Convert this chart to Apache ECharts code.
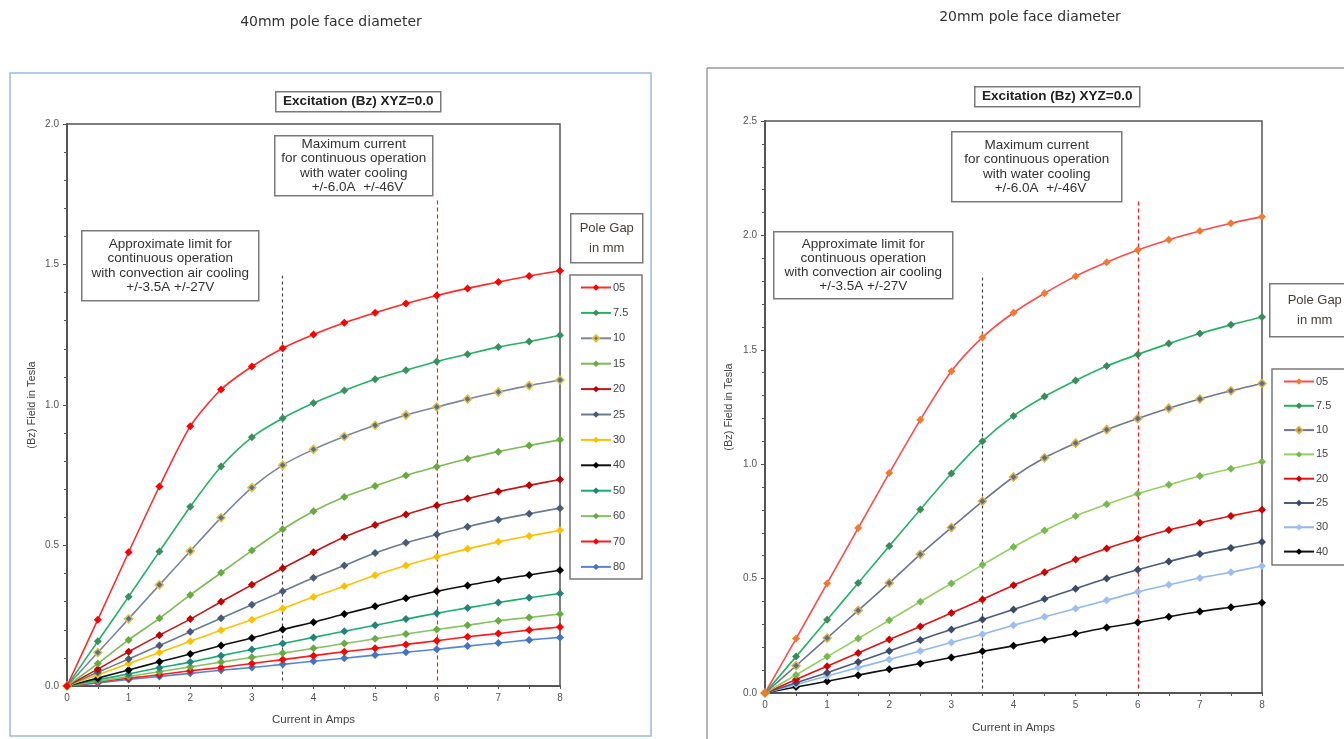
<!DOCTYPE html>
<html>
<head>
<meta charset="utf-8">
<title>Excitation (Bz) XYZ=0.0</title>
<script src="https://cdn.jsdelivr.net/npm/echarts@6/dist/echarts.min.js"></script>
<style>
  html, body { margin: 0; padding: 0; background: #fff; }
  #chart { width: 1344px; height: 739px; }
</style>
</head>
<body>
<div id="chart"></div>
<script>
// current in amps (x values shared by every curve)
const current = [0, 0.5, 1, 1.5, 2, 2.5, 3, 3.5, 4, 4.5, 5, 5.5, 6, 6.5, 7, 7.5, 8];

// 40mm pole face diameter, field in tesla per pole gap
const leftGaps = ["05", "7.5", "10", "15", "20", "25", "30", "40", "50", "60", "70", "80"];
const left05 = [0, 0.236, 0.476, 0.710, 0.924, 1.055, 1.137, 1.202, 1.251, 1.293, 1.328, 1.361, 1.390, 1.415, 1.438, 1.459, 1.478];
const left75 = [0, 0.159, 0.318, 0.479, 0.638, 0.781, 0.885, 0.953, 1.007, 1.052, 1.092, 1.124, 1.155, 1.181, 1.206, 1.226, 1.248];
const left10 = [0, 0.119, 0.239, 0.360, 0.480, 0.599, 0.706, 0.786, 0.842, 0.888, 0.928, 0.964, 0.993, 1.021, 1.046, 1.069, 1.089];
const left15 = [0, 0.080, 0.164, 0.241, 0.324, 0.403, 0.482, 0.558, 0.622, 0.673, 0.712, 0.749, 0.780, 0.809, 0.834, 0.856, 0.876];
const left20 = [0, 0.060, 0.122, 0.181, 0.238, 0.300, 0.360, 0.419, 0.476, 0.530, 0.573, 0.610, 0.642, 0.667, 0.692, 0.714, 0.735];
const left25 = [0, 0.049, 0.096, 0.144, 0.193, 0.241, 0.289, 0.337, 0.385, 0.429, 0.473, 0.510, 0.539, 0.567, 0.592, 0.613, 0.633];
const left30 = [0, 0.040, 0.080, 0.119, 0.159, 0.198, 0.236, 0.276, 0.317, 0.355, 0.394, 0.429, 0.460, 0.488, 0.513, 0.534, 0.554];
const left40 = [0, 0.028, 0.057, 0.086, 0.114, 0.144, 0.171, 0.201, 0.227, 0.256, 0.284, 0.312, 0.337, 0.358, 0.378, 0.395, 0.412];
const left50 = [0, 0.022, 0.043, 0.065, 0.085, 0.108, 0.130, 0.151, 0.173, 0.195, 0.216, 0.238, 0.259, 0.278, 0.297, 0.314, 0.329];
const left60 = [0, 0.017, 0.034, 0.051, 0.068, 0.085, 0.102, 0.117, 0.134, 0.151, 0.168, 0.185, 0.201, 0.216, 0.232, 0.244, 0.256];
const left70 = [0, 0.014, 0.028, 0.040, 0.054, 0.066, 0.080, 0.094, 0.108, 0.122, 0.134, 0.148, 0.161, 0.175, 0.187, 0.199, 0.210];
const left80 = [0, 0.011, 0.023, 0.034, 0.045, 0.056, 0.066, 0.077, 0.088, 0.099, 0.110, 0.120, 0.131, 0.142, 0.153, 0.164, 0.173];

// 20mm pole face diameter
const rightGaps = ["05", "7.5", "10", "15", "20", "25", "30", "40"];
const right05 = [0, 0.238, 0.479, 0.721, 0.961, 1.194, 1.406, 1.554, 1.662, 1.747, 1.822, 1.883, 1.936, 1.981, 2.019, 2.053, 2.082];
const right75 = [0, 0.159, 0.320, 0.481, 0.642, 0.802, 0.959, 1.100, 1.211, 1.296, 1.366, 1.429, 1.480, 1.527, 1.571, 1.609, 1.643];
const right10 = [0, 0.119, 0.240, 0.361, 0.481, 0.606, 0.723, 0.838, 0.944, 1.028, 1.092, 1.151, 1.200, 1.245, 1.285, 1.321, 1.353];
const right15 = [0, 0.079, 0.159, 0.238, 0.318, 0.399, 0.479, 0.560, 0.638, 0.710, 0.774, 0.825, 0.871, 0.910, 0.948, 0.980, 1.011];
const right20 = [0, 0.059, 0.117, 0.175, 0.234, 0.291, 0.350, 0.409, 0.471, 0.528, 0.583, 0.632, 0.674, 0.712, 0.744, 0.774, 0.801];
const right25 = [0, 0.045, 0.089, 0.136, 0.184, 0.232, 0.278, 0.321, 0.365, 0.411, 0.456, 0.500, 0.539, 0.575, 0.607, 0.634, 0.660];
const right30 = [0, 0.037, 0.074, 0.111, 0.146, 0.184, 0.221, 0.257, 0.296, 0.333, 0.369, 0.405, 0.442, 0.473, 0.503, 0.528, 0.555];
const right40 = [0, 0.026, 0.051, 0.078, 0.104, 0.129, 0.155, 0.182, 0.206, 0.233, 0.259, 0.286, 0.308, 0.333, 0.356, 0.375, 0.394];

// cooling limits (amps) and how far up the dashed markers reach (tesla)
const airLimit = 3.5;
const waterLimit = 6;
const leftLimitTop = [1.46, 1.73];
const rightLimitTop = [1.83, 2.16];

const leftValues = [left05, left75, left10, left15, left20, left25, left30, left40, left50, left60, left70, left80];
const rightValues = [right05, right75, right10, right15, right20, right25, right30, right40];

// line colour, marker colour, marker border
const leftStyles = [
  ["#ff2a2a", "#ff0000", null],
  ["#22b463", "#3b8f5f", null],
  ["#7c86a0", "#4a6fb0", "#e8c030"],
  ["#7abb52", "#68aa42", null],
  ["#c41616", "#c00000", null],
  ["#6c7a92", "#4a5a7a", null],
  ["#ffc000", "#ffbf00", null],
  ["#111111", "#000000", null],
  ["#16b06e", "#25807e", null],
  ["#86c462", "#6aaa44", null],
  ["#ff1a1a", "#ff0000", null],
  ["#5586d6", "#4472c4", null]
];
const rightStyles = [
  ["#ff4a4a", "#f07a30", null],
  ["#22b463", "#3a8a5a", null],
  ["#6c7692", "#4a6fb0", "#e8b030"],
  ["#92d060", "#78b850", null],
  ["#e01414", "#d00000", null],
  ["#4c5c7a", "#3a4a68", null],
  ["#90b8f0", "#9cbef0", null],
  ["#111111", "#000000", null]
];

const FONT = "'Liberation Sans', Arial, sans-serif";
const AXIS_COLOR = "#555";

const chart = echarts.init(document.getElementById("chart"), null, { renderer: "canvas" });

function limitLine(x, top, color, dash) {
  const ls = { color: color, type: dash, width: 1.2 };
  return {
    silent: true,
    symbol: "none",
    label: { show: false },
    animation: false,
    lineStyle: ls,
    data: [[{ coord: [x, 0.02], lineStyle: ls }, { coord: [x, top], lineStyle: ls }]]
  };
}

function makeSeries(gaps, values, styles, idx, tag, limitTop) {
  return gaps.map((g, i) => {
    const s = {
      name: g + "|" + tag,
      type: "line",
      xAxisIndex: idx,
      yAxisIndex: idx,
      data: current.map((c, k) => [c, values[i][k]]),
      smooth: 0.25,
      symbol: "diamond",
      symbolSize: 8,
      showSymbol: true,
      lineStyle: { color: styles[i][0], width: 1.6 },
      itemStyle: {
        color: styles[i][1],
        borderColor: styles[i][2] || styles[i][1],
        borderWidth: styles[i][2] ? 1.5 : 0
      },
      z: 10 - i * 0.1,
      animation: false
    };
    if (i === 0) s.markLine = limitLine(airLimit, limitTop[0], "#444", [3, 3]);
    if (i === 1) s.markLine = limitLine(waterLimit, limitTop[1], "#ff1a1a", [4, 3]);
    return s;
  });
}

function makeXAxis(grid, gap) {
  return {
    gridIndex: grid,
    type: "value",
    min: 0,
    max: 8,
    interval: 1,
    name: "Current in Amps",
    nameLocation: "middle",
    nameGap: gap,
    nameTextStyle: { fontFamily: FONT, fontSize: 11.5, color: "#444" },
    axisLine: { lineStyle: { color: AXIS_COLOR, width: 2 } },
    axisTick: { length: 3, lineStyle: { color: AXIS_COLOR } },
    minorTick: { show: true, splitNumber: 2, length: 3, lineStyle: { color: AXIS_COLOR } },
    axisLabel: { fontFamily: FONT, fontSize: 10, color: "#555", margin: 7 },
    splitLine: { show: false }
  };
}

function makeYAxis(grid, max, gap) {
  return {
    gridIndex: grid,
    type: "value",
    min: 0,
    max: max,
    interval: 0.5,
    name: "(Bz) Field in Tesla",
    nameLocation: "middle",
    nameGap: gap,
    nameTextStyle: { fontFamily: FONT, fontSize: 11, color: "#444" },
    axisLine: { lineStyle: { color: AXIS_COLOR, width: 2 } },
    axisTick: { length: 4, lineStyle: { color: AXIS_COLOR } },
    minorTick: { show: true, splitNumber: 5, length: 3, lineStyle: { color: AXIS_COLOR } },
    axisLabel: {
      fontFamily: FONT, fontSize: 10, color: "#555", margin: 8,
      formatter: (v) => v.toFixed(1)
    },
    splitLine: { show: false }
  };
}

function textBox(x, y, w, h, lines, opts) {
  opts = opts || {};
  return {
    type: "group",
    left: x,
    top: y,
    children: [
      {
        type: "rect",
        shape: { x: 0, y: 0, width: w, height: h },
        style: { fill: "#fff", stroke: "#7a7a7a", lineWidth: 1.5 },
        z: 50
      },
      {
        type: "text",
        x: w / 2,
        y: h / 2,
        style: {
          text: lines.join("\n"),
          fontFamily: FONT,
          fontSize: opts.fontSize || 13.5,
          fontWeight: opts.bold ? "bold" : "normal",
          lineHeight: opts.lineHeight || 14.3,
          fill: opts.color || "#333",
          align: "center",
          verticalAlign: "middle"
        },
        z: 51
      }
    ]
  };
}

const legendFmt = (name) => name.split("|")[0];

const option = {
  backgroundColor: "#fff",
  animation: false,
  grid: [
    { left: 67, top: 124, width: 493, height: 562, show: true, borderColor: AXIS_COLOR, borderWidth: 1.5 },
    { left: 765, top: 121, width: 497, height: 573, show: true, borderColor: AXIS_COLOR, borderWidth: 1.5 }
  ],
  xAxis: [makeXAxis(0, 28), makeXAxis(1, 29)],
  yAxis: [makeYAxis(0, 2.0, 30), makeYAxis(1, 2.5, 31)],
  legend: [
    {
      orient: "vertical",
      left: 580,
      top: 282,
      padding: 0,
      itemWidth: 30,
      itemHeight: 8,
      itemGap: 14.4,
      data: leftGaps.map((g) => g + "|L"),
      formatter: legendFmt,
      textStyle: { fontFamily: FONT, fontSize: 11, color: "#444", padding: [0, 0, 0, -3] },
      selectedMode: false
    },
    {
      orient: "vertical",
      left: 1283,
      top: 376,
      padding: 0,
      itemWidth: 30,
      itemHeight: 8,
      itemGap: 13.3,
      data: rightGaps.map((g) => g + "|R"),
      formatter: legendFmt,
      textStyle: { fontFamily: FONT, fontSize: 11, color: "#444", padding: [0, 0, 0, -3] },
      selectedMode: false
    }
  ],
  series: [
    ...makeSeries(leftGaps, leftValues, leftStyles, 0, "L", leftLimitTop),
    ...makeSeries(rightGaps, rightValues, rightStyles, 1, "R", rightLimitTop)
  ],
  graphic: [
    // outer frames
    { type: "rect", shape: { x: 10, y: 73, width: 641, height: 663 }, style: { fill: "none", stroke: "#9db8e2", lineWidth: 1.5 }, z: 1 },
    { type: "rect", shape: { x: 707, y: 68, width: 660, height: 690 }, style: { fill: "none", stroke: "#6a6a6a", lineWidth: 1 }, z: 1 },
    // page titles
    { type: "text", x: 331, y: 22, style: { text: "40mm pole face diameter", fontFamily: "'DejaVu Sans', sans-serif", fontSize: 14, fill: "#333", align: "center", verticalAlign: "middle" } },
    { type: "text", x: 1030, y: 17, style: { text: "20mm pole face diameter", fontFamily: "'DejaVu Sans', sans-serif", fontSize: 14, fill: "#333", align: "center", verticalAlign: "middle" } },
    // left annotations
    textBox(275, 91, 165, 20, ["Excitation (Bz) XYZ=0.0"], { bold: true, fontSize: 13.5, color: "#222" }),
    textBox(274, 135, 158, 60, ["Maximum current", "for continuous operation", "with water cooling", "  +/-6.0A  +/-46V"]),
    textBox(81, 230, 177, 70, ["Approximate limit for", "continuous operation", "with convection air cooling", "+/-3.5A +/-27V"]),
    textBox(570, 213, 72, 49, ["Pole Gap", "in mm"], { fontSize: 13, lineHeight: 20, color: "#4a4038" }),
    { type: "rect", shape: { x: 570, y: 275, width: 72, height: 304 }, style: { fill: "none", stroke: "#7a7a7a", lineWidth: 1.5 }, z: 0 },
    // right annotations
    textBox(974, 86, 165, 20, ["Excitation (Bz) XYZ=0.0"], { bold: true, fontSize: 13.5, color: "#222" }),
    textBox(951, 131, 170, 70, ["Maximum current", "for continuous operation", "with water cooling", "  +/-6.0A  +/-46V"]),
    textBox(773, 231, 179, 67, ["Approximate limit for", "continuous operation", "with convection air cooling", "+/-3.5A +/-27V"]),
    textBox(1269, 283, 90, 53, ["Pole Gap", "in mm"], { fontSize: 13, lineHeight: 20, color: "#4a4038" }),
    { type: "rect", shape: { x: 1272, y: 369, width: 90, height: 196 }, style: { fill: "none", stroke: "#7a7a7a", lineWidth: 1.5 }, z: 0 }
  ]
};

chart.setOption(option);
window.addEventListener("resize", () => chart.resize());
</script>
</body>
</html>
